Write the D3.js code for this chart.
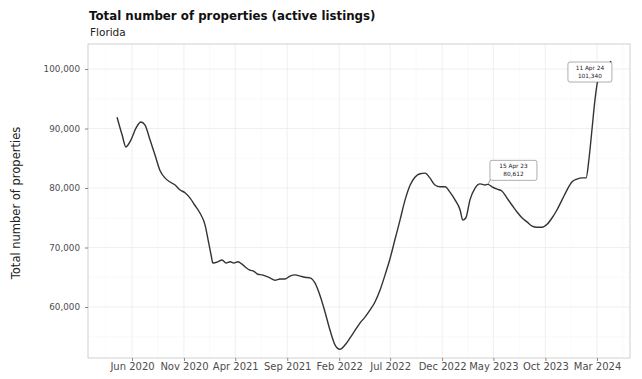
<!DOCTYPE html>
<html>
  <head>
    <meta charset="utf-8" />
    <script src="https://d3js.org/d3.v7.min.js"></script>
    <title>Total number of properties</title>
    <style>
      body { margin: 0; background: #fff; }
      text { font-family: "DejaVu Sans", sans-serif; }
      .grid-major { stroke: #ebebeb; stroke-width: 0.8px; }
      .grid-minor { stroke: #f4f4f4; stroke-width: 0.5px; }
      .tick text { fill: #4d4d4d; }
      .y-axis .tick text { font-size: 8.8px; }
      .x-axis .tick text { font-size: 10px; }
      .tick line { stroke: #888; }
      .domain { display: none; }
    </style>
  </head>
  <body>

    <svg id="chart" width="642" height="379"></svg>

    <script>

      var dates = [
        "2020-04-18","2020-05-03","2020-05-14","2020-05-29","2020-06-13","2020-06-27",
        "2020-07-09","2020-07-24","2020-08-08","2020-08-22","2020-09-06","2020-09-21",
        "2020-10-06","2020-10-20","2020-11-04","2020-11-19","2020-12-03","2020-12-18",
        "2021-01-02","2021-01-11","2021-01-20","2021-01-25","2021-02-09","2021-02-21",
        "2021-03-05","2021-03-17","2021-03-28","2021-04-09","2021-04-21","2021-05-03",
        "2021-05-14","2021-05-26","2021-06-07","2021-06-19","2021-06-30","2021-07-12",
        "2021-07-27","2021-08-11","2021-08-25","2021-09-09","2021-09-24","2021-10-09",
        "2021-10-23","2021-11-07","2021-11-22","2021-12-06","2021-12-21","2022-01-05",
        "2022-01-20","2022-02-03","2022-02-18","2022-03-05","2022-03-20","2022-04-03",
        "2022-04-18","2022-05-03","2022-05-17","2022-06-01","2022-06-16","2022-07-01",
        "2022-07-15","2022-07-30","2022-08-14","2022-08-29","2022-09-12","2022-09-27",
        "2022-10-12","2022-10-26","2022-11-10","2022-11-25","2022-12-10","2022-12-24",
        "2023-01-08","2023-01-23","2023-01-31","2023-02-09","2023-02-21","2023-03-08",
        "2023-03-23","2023-04-06","2023-04-15","2023-04-27","2023-05-12","2023-05-26",
        "2023-06-10","2023-06-25","2023-07-09","2023-07-24","2023-08-08","2023-08-23",
        "2023-09-06","2023-09-21","2023-10-06","2023-10-21","2023-11-04","2023-11-19",
        "2023-12-04","2023-12-18","2024-01-02","2024-01-17","2024-01-29","2024-02-06",
        "2024-02-15","2024-02-24","2024-03-04","2024-03-25","2024-04-11"
      ];

      var listings = [
        91900, 88900, 86900, 88100, 90100, 91100,
        90600, 88100, 85500, 83000, 81700, 81000,
        80500, 79700, 79200, 78300, 77100, 75800,
        73800, 71300, 68700, 67400, 67600, 67900,
        67400, 67600, 67400, 67600, 67200, 66600,
        66200, 66000, 65500, 65400, 65200, 64900,
        64500, 64700, 64700, 65200, 65400, 65200,
        65000, 64900, 64000, 62000, 59200, 56100,
        53600, 52900, 53600, 54800, 56100, 57300,
        58300, 59500, 60800, 62800, 65400, 68200,
        71300, 74600, 78000, 80500, 81800, 82400,
        82500, 81700, 80500, 80200, 80200, 79300,
        78000, 76300, 74600, 75000, 78000, 80000,
        80700, 80500, 80612, 80200, 79800, 79500,
        78300, 77100, 76000, 75000, 74300, 73600,
        73400, 73400, 73900, 75000, 76300, 78000,
        79700, 81000, 81500, 81700, 81700, 84700,
        89700, 94800, 98200, 99800, 101340
      ];

      var yTicks = [60000, 70000, 80000, 90000, 100000];
      var xTicks = ["2020-06-01","2020-11-01","2021-04-01","2021-09-01","2022-02-01",
                    "2022-07-01","2022-12-01","2023-05-01","2023-10-01","2024-03-01"];

      var annDates = ["2023-04-15", "2024-04-11"];
      var annValues = [80612, 101340];
      var annLabels = [["15 Apr 23", "80,612"], ["11 Apr 24", "101,340"]];

      var parse = d3.timeParse("%Y-%m-%d");
      var data = dates.map(function(d, i) { return { date: parse(d), value: listings[i] }; });

      var panel = { left: 88, right: 630, top: 44, bottom: 358 };

      // scale anchored on two tick positions, then widened to the panel
      var x0 = d3.scaleTime()
        .domain([parse("2020-06-01"), parse("2024-03-01")])
        .range([132, 597]);
      var x = d3.scaleTime()
        .domain([x0.invert(panel.left), x0.invert(panel.right)])
        .range([panel.left, panel.right]);

      var y0 = d3.scaleLinear().domain([60000, 100000]).range([307, 69]);
      var y = d3.scaleLinear()
        .domain([y0.invert(panel.bottom), y0.invert(panel.top)])
        .range([panel.bottom, panel.top]);

      var svg = d3.select("#chart");

      // grid
      var xt = xTicks.map(parse);
      var xMinor = [];
      for (var i = 0; i < xt.length - 1; i++) {
        xMinor.push(new Date((xt[i].getTime() + xt[i + 1].getTime()) / 2));
      }
      xMinor.unshift(new Date(2 * xt[0].getTime() - xMinor[0].getTime()));
      xMinor.push(new Date(2 * xt[xt.length - 1].getTime() - xMinor[xMinor.length - 1].getTime()));
      var yMinor = [55000, 65000, 75000, 85000, 95000];

      svg.selectAll(".xminor").data(xMinor.filter(function(d) {
          return x(d) > panel.left && x(d) < panel.right; }))
        .enter().append("line")
        .attr("class", "grid-minor")
        .attr("x1", function(d) { return x(d); }).attr("x2", function(d) { return x(d); })
        .attr("y1", panel.top).attr("y2", panel.bottom);

      svg.selectAll(".yminor").data(yMinor)
        .enter().append("line")
        .attr("class", "grid-minor")
        .attr("x1", panel.left).attr("x2", panel.right)
        .attr("y1", function(d) { return y(d); }).attr("y2", function(d) { return y(d); });

      svg.selectAll(".xmajor").data(xt)
        .enter().append("line")
        .attr("class", "grid-major")
        .attr("x1", function(d) { return x(d); }).attr("x2", function(d) { return x(d); })
        .attr("y1", panel.top).attr("y2", panel.bottom);

      svg.selectAll(".ymajor").data(yTicks)
        .enter().append("line")
        .attr("class", "grid-major")
        .attr("x1", panel.left).attr("x2", panel.right)
        .attr("y1", function(d) { return y(d); }).attr("y2", function(d) { return y(d); });

      svg.append("rect")
        .attr("x", panel.left).attr("y", panel.top)
        .attr("width", panel.right - panel.left).attr("height", panel.bottom - panel.top)
        .attr("fill", "none").attr("stroke", "#d0d0d0").attr("stroke-width", 1);

      // axes
      svg.append("g")
        .attr("class", "y-axis")
        .attr("transform", "translate(" + panel.left + ",0)")
        .call(d3.axisLeft(y).tickValues(yTicks).tickSize(3).tickPadding(5)
          .tickFormat(d3.format(",")));

      svg.append("g")
        .attr("class", "x-axis")
        .attr("transform", "translate(0," + panel.bottom + ")")
        .call(d3.axisBottom(x).tickValues(xt).tickSize(3).tickPadding(2)
          .tickFormat(d3.timeFormat("%b %Y")));

      // line
      var line = d3.line()
        .x(function(d) { return x(d.date); })
        .y(function(d) { return y(d.value); })
        .curve(d3.curveMonotoneX);

      svg.append("path")
        .datum(data)
        .attr("fill", "none")
        .attr("stroke", "#333")
        .attr("stroke-width", 1.4)
        .attr("stroke-linejoin", "round")
        .attr("d", line);

      // annotation labels
      var boxOffsets = [[2, -24], [-43, 1]];
      annDates.forEach(function(d, i) {
        var px = x(parse(d)), py = y(annValues[i]);
        var bx = px + boxOffsets[i][0], by = py + boxOffsets[i][1];
        var bw = i === 0 ? 47 : 44, bh = 20;
        svg.append("line")
          .attr("x1", px).attr("y1", py)
          .attr("x2", i === 0 ? bx + 1 : bx + bw - 1).attr("y2", i === 0 ? by + bh - 2 : by + 2)
          .attr("stroke", "#555").attr("stroke-width", 0.6);
        svg.append("rect")
          .attr("x", bx).attr("y", by).attr("width", bw).attr("height", bh)
          .attr("rx", 2).attr("fill", "#fff").attr("stroke", "#777").attr("stroke-width", 0.6);
        annLabels[i].forEach(function(t, j) {
          svg.append("text")
            .attr("x", bx + bw / 2).attr("y", by + 8 + j * 8)
            .attr("text-anchor", "middle")
            .attr("font-size", 5.8)
            .attr("fill", "#222")
            .text(t);
        });
      });

      // titles
      svg.append("text")
        .attr("x", 89).attr("y", 20)
        .attr("font-size", 11.8).attr("font-weight", "bold").attr("fill", "#111")
        .text("Total number of properties (active listings)");

      svg.append("text")
        .attr("x", 90).attr("y", 36)
        .attr("font-size", 10.5).attr("fill", "#222")
        .text("Florida");

      svg.append("text")
        .attr("transform", "translate(20," + ((panel.top + panel.bottom) / 2 + 2) + ") rotate(-90)")
        .attr("text-anchor", "middle")
        .attr("font-size", 11.5).attr("fill", "#222")
        .text("Total number of properties");

    </script>

  </body>
</html>
